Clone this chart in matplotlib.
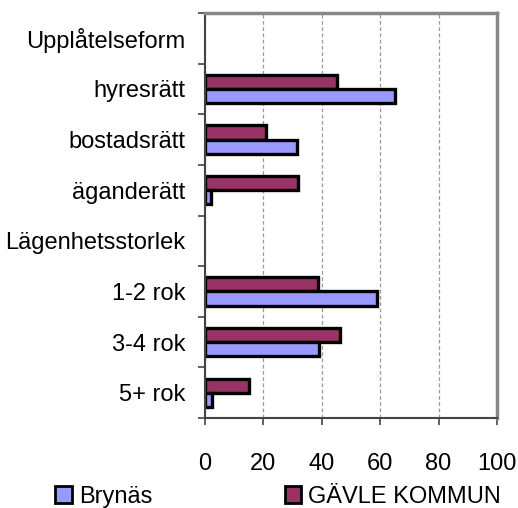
import numpy as np
import matplotlib.pyplot as plt
from matplotlib.patches import Patch

plt.rcParams['font.family'] = ['Liberation Sans', 'DejaVu Sans']

categories = ['Upplåtelseform', 'hyresrätt', 'bostadsrätt', 'äganderätt',
              'Lägenhetsstorlek', '1-2 rok', '3-4 rok', '5+ rok']
brynas = [np.nan, 65, 31.4, 2, np.nan, 58.8, 39.1, 2.3]
gavle = [np.nan, 45.2, 21, 32, np.nan, 38.6, 46.2, 15.2]
series_names = ['Brynäs', 'GÄVLE KOMMUN']
xticks = [0, 20, 40, 60, 80, 100]

blue = '#9999FF'
purple = '#993366'
fs = 17

fig = plt.figure(figsize=(5.18, 5.08), dpi=100)
ax = fig.add_axes([205/518, 1-418/508, 292/518, 405/508])

y = np.arange(len(categories))
h = 0.28
ax.barh(y - h/2, gavle, height=h, color=purple, edgecolor='black', linewidth=2.4)
ax.barh(y + h/2, brynas, height=h, color=blue, edgecolor='black', linewidth=2.4)

ax.set_ylim(len(categories) - 0.5, -0.5)
ax.set_xlim(0, 100)
ax.set_yticks(y)
ax.set_yticklabels(categories, fontsize=fs)
ax.set_yticks(np.arange(len(categories) + 1) - 0.5, minor=True)
ax.tick_params(axis='y', which='major', length=0, pad=14)
ax.tick_params(axis='y', which='minor', length=5, width=1.2, color='#444444', direction='out')
ax.set_xticks(xticks)
ax.set_xticklabels([str(v) for v in xticks], fontsize=fs)
ax.tick_params(axis='x', length=5, width=1.2, color='#444444', direction='out', pad=20)

ax.grid(axis='x', linestyle=(0, (3, 2)), color='#999999', linewidth=0.9)
ax.set_axisbelow(True)
for s in ['top', 'right']:
    ax.spines[s].set_color('#888888')
    ax.spines[s].set_linewidth(2.5)
for s in ['left', 'bottom']:
    ax.spines[s].set_color('#444444')
    ax.spines[s].set_linewidth(1.5)

handles = [Patch(facecolor=blue, edgecolor='black', linewidth=2),
           Patch(facecolor=purple, edgecolor='black', linewidth=2)]
fig.legend(handles, series_names, loc='lower left', bbox_to_anchor=(0.075, -0.032),
           ncol=2, frameon=False, fontsize=fs, handlelength=0.7, handleheight=0.7,
           handletextpad=0.3, columnspacing=5.6, borderpad=0.2)

fig.savefig('out.png', dpi=100)
